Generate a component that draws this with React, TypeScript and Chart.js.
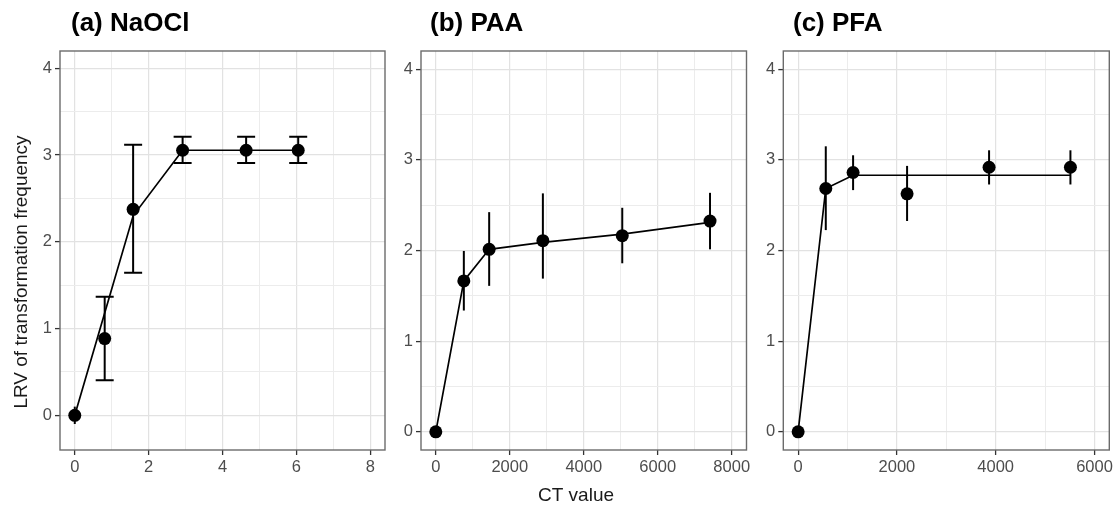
import React, { useEffect, useRef } from "react";
import { Chart, registerables } from "chart.js";

Chart.register(...registerables);

// ---------- data ----------
const yTicks = [0, 1, 2, 3, 4];

const naoclXTicks = [0, 2, 4, 6, 8];
const naoclCT = [0, 0.81, 1.58, 2.92, 4.64, 6.05];
const naoclLRV = [0, 0.885, 2.375, 3.056, 3.056, 3.056];
const naoclLow = [-0.1, 0.404, 1.643, 2.91, 2.91, 2.91];
const naoclHigh = [0.1, 1.366, 3.118, 3.21, 3.21, 3.21];
const naoclFit = [0, 1.18, 2.3, 3.056, 3.056, 3.056];

const paaXTicks = [0, 2000, 4000, 6000, 8000];
const paaCT = [0, 758, 1443, 2895, 5041, 7414];
const paaLRV = [0, 1.665, 2.013, 2.108, 2.163, 2.324];
const paaLow = [0, 1.338, 1.61, 1.69, 1.859, 2.013];
const paaHigh = [0, 1.995, 2.423, 2.63, 2.471, 2.636];
const paaFit = [0, 1.665, 2.013, 2.09, 2.18, 2.31];

const pfaXTicks = [0, 2000, 4000, 6000];
const pfaCT = [0, 560, 1113, 2206, 3866, 5513];
const pfaLRV = [0, 2.684, 2.86, 2.625, 2.918, 2.918];
const pfaLow = [0, 2.225, 2.666, 2.325, 2.728, 2.728];
const pfaHigh = [0, 3.149, 3.05, 2.933, 3.105, 3.105];
const pfaFit = [0, 2.684, 2.83, 2.83, 2.83, 2.83];

const titles = ["(a) NaOCl", "(b) PAA", "(c) PFA"];
const yTitle = "LRV of transformation frequency";
const xTitle = "CT value";

// ---------- helpers ----------
const FONT = "'Liberation Sans', Arial, Helvetica, sans-serif";

function withMinor(major: number[]) {
  const out: { value: number; major: boolean }[] = [];
  for (let i = 0; i < major.length; i++) {
    out.push({ value: major[i], major: true });
    if (i < major.length - 1) out.push({ value: (major[i] + major[i + 1]) / 2, major: false });
  }
  return out;
}

type Spec = {
  left: number;
  width: number;
  yW: number;
  padRight: number;
  title: string;
  titleX: number; // page x
  xTicks: number[];
  xMin: number;
  xMax: number;
  yMin: number;
  yMax: number;
  ct: number[];
  lrv: number[];
  low: number[];
  high: number[];
  fit: number[];
  caps: boolean;
  showYTitle: boolean;
  showXTitle: boolean;
};

const specs: Spec[] = [
  {
    left: 0, width: 395, yW: 60, padRight: 10, title: titles[0], titleX: 71,
    xTicks: naoclXTicks, xMin: -0.4, xMax: 8.4, yMin: -0.4, yMax: 4.2,
    ct: naoclCT, lrv: naoclLRV, low: naoclLow, high: naoclHigh, fit: naoclFit,
    caps: true, showYTitle: true, showXTitle: false,
  },
  {
    left: 395, width: 360, yW: 26, padRight: 8.5, title: titles[1], titleX: 430,
    xTicks: paaXTicks, xMin: -400, xMax: 8400, yMin: -0.2, yMax: 4.2,
    ct: paaCT, lrv: paaLRV, low: paaLow, high: paaHigh, fit: paaFit,
    caps: false, showYTitle: false, showXTitle: true,
  },
  {
    left: 755, width: 365, yW: 28.3, padRight: 10.7, title: titles[2], titleX: 793,
    xTicks: pfaXTicks, xMin: -300, xMax: 6300, yMin: -0.2, yMax: 4.2,
    ct: pfaCT, lrv: pfaLRV, low: pfaLow, high: pfaHigh, fit: pfaFit,
    caps: false, showYTitle: false, showXTitle: false,
  },
];

function Panel({ spec }: { spec: Spec }) {
  const ref = useRef<HTMLCanvasElement>(null);

  useEffect(() => {
    const canvas = ref.current!;
    const xAll = withMinor(spec.xTicks);
    const yAll = withMinor(yTicks);
    const majorX = new Set(spec.xTicks);
    const majorY = new Set(yTicks);

    const decor = {
      id: "decor",
      beforeDatasetsDraw(chart: any) {
        const ctx = chart.ctx;
        const xs = chart.scales.x;
        const ys = chart.scales.y;
        ctx.save();
        ctx.strokeStyle = "#000";
        ctx.lineWidth = 2;
        for (let i = 0; i < spec.ct.length; i++) {
          const lo = spec.low[i];
          const hi = spec.high[i];
          if (hi - lo <= 0) continue;
          const px = xs.getPixelForValue(spec.ct[i]);
          const y1 = ys.getPixelForValue(lo);
          const y2 = ys.getPixelForValue(hi);
          ctx.beginPath();
          ctx.moveTo(px, y1);
          ctx.lineTo(px, y2);
          if (spec.caps && hi - lo > 0.25) {
            ctx.moveTo(px - 9, y1);
            ctx.lineTo(px + 9, y1);
            ctx.moveTo(px - 9, y2);
            ctx.lineTo(px + 9, y2);
          }
          ctx.stroke();
        }
        ctx.restore();
      },
      afterDraw(chart: any) {
        const ctx = chart.ctx;
        const a = chart.chartArea;
        ctx.save();
        ctx.strokeStyle = "#6b6b6b";
        ctx.lineWidth = 1.4;
        ctx.strokeRect(a.left, a.top, a.right - a.left, a.bottom - a.top);
        // panel title
        ctx.fillStyle = "#000";
        ctx.font = `bold 26px ${FONT}`;
        ctx.textAlign = "left";
        ctx.textBaseline = "middle";
        ctx.fillText(spec.title, spec.titleX - spec.left, 24);
        ctx.font = `19px ${FONT}`;
        ctx.fillStyle = "#1a1a1a";
        if (spec.showXTitle) {
          ctx.textAlign = "center";
          ctx.fillText(xTitle, 576 - spec.left, 496);
        }
        if (spec.showYTitle) {
          ctx.translate(22 - spec.left, 272);
          ctx.rotate(-Math.PI / 2);
          ctx.textAlign = "center";
          ctx.fillText(yTitle, 0, 0);
        }
        ctx.restore();
      },
    };

    const chart = new Chart(canvas, {
      type: "scatter",
      data: {
        datasets: [
          {
            type: "line",
            data: spec.ct.map((x, i) => ({ x, y: spec.fit[i] })),
            borderColor: "#000",
            borderWidth: 1.7,
            pointRadius: 0,
            fill: false,
            tension: 0,
            order: 2,
          } as any,
          {
            type: "scatter",
            data: spec.ct.map((x, i) => ({ x, y: spec.lrv[i] })),
            backgroundColor: "#000",
            borderColor: "#000",
            borderWidth: 0,
            pointRadius: 6.5,
            order: 1,
          },
        ],
      },
      options: {
        responsive: false,
        animation: false,
        devicePixelRatio: 1,
        layout: { padding: { left: 0, right: spec.padRight, top: 51, bottom: 0 } },
        plugins: { legend: { display: false }, tooltip: { enabled: false }, title: { display: false } },
        scales: {
          x: {
            type: "linear",
            min: spec.xMin,
            max: spec.xMax,
            afterBuildTicks: (s: any) => {
              s.ticks = xAll.map((t) => ({ value: t.value }));
            },
            afterFit: (s: any) => {
              s.height = 58;
            },
            border: { display: false },
            grid: {
              color: (c: any) => (majorX.has(c.tick?.value) ? "#e2e2e2" : "#ececec"),
              lineWidth: (c: any) => (majorX.has(c.tick?.value) ? 1.2 : 1),
              tickColor: (c: any) => (majorX.has(c.tick?.value) ? "#333" : "rgba(0,0,0,0)"),
              tickLength: 5,
              tickWidth: 1.3,
            },
            ticks: {
              autoSkip: false,
              maxRotation: 0,
              padding: 3,
              color: "#4d4d4d",
              font: { family: FONT, size: 16.5 },
              callback: (v: any) => (majorX.has(v) ? String(v) : ""),
            },
          },
          y: {
            type: "linear",
            min: spec.yMin,
            max: spec.yMax,
            afterBuildTicks: (s: any) => {
              s.ticks = yAll.map((t) => ({ value: t.value }));
            },
            afterFit: (s: any) => {
              s.width = spec.yW;
            },
            border: { display: false },
            grid: {
              color: (c: any) => (majorY.has(c.tick?.value) ? "#e2e2e2" : "#ececec"),
              lineWidth: (c: any) => (majorY.has(c.tick?.value) ? 1.2 : 1),
              tickColor: (c: any) => (majorY.has(c.tick?.value) ? "#333" : "rgba(0,0,0,0)"),
              tickLength: 5,
              tickWidth: 1.3,
            },
            ticks: {
              autoSkip: false,
              padding: 3,
              color: "#4d4d4d",
              font: { family: FONT, size: 16.5 },
              callback: (v: any) => (majorY.has(v) ? String(v) : ""),
            },
          },
        },
      },
      plugins: [decor],
    } as any);

    return () => chart.destroy();
  }, [spec]);

  return (
    <canvas
      ref={ref}
      width={spec.width}
      height={508}
      style={{ position: "absolute", left: spec.left, top: 0, width: spec.width, height: 508 }}
    />
  );
}

export default function App() {
  return (
    <div style={{ position: "absolute", left: 0, top: 0, width: 1120, height: 508, background: "#fff" }}>
      {specs.map((s, i) => (
        <Panel key={i} spec={s} />
      ))}
    </div>
  );
}
